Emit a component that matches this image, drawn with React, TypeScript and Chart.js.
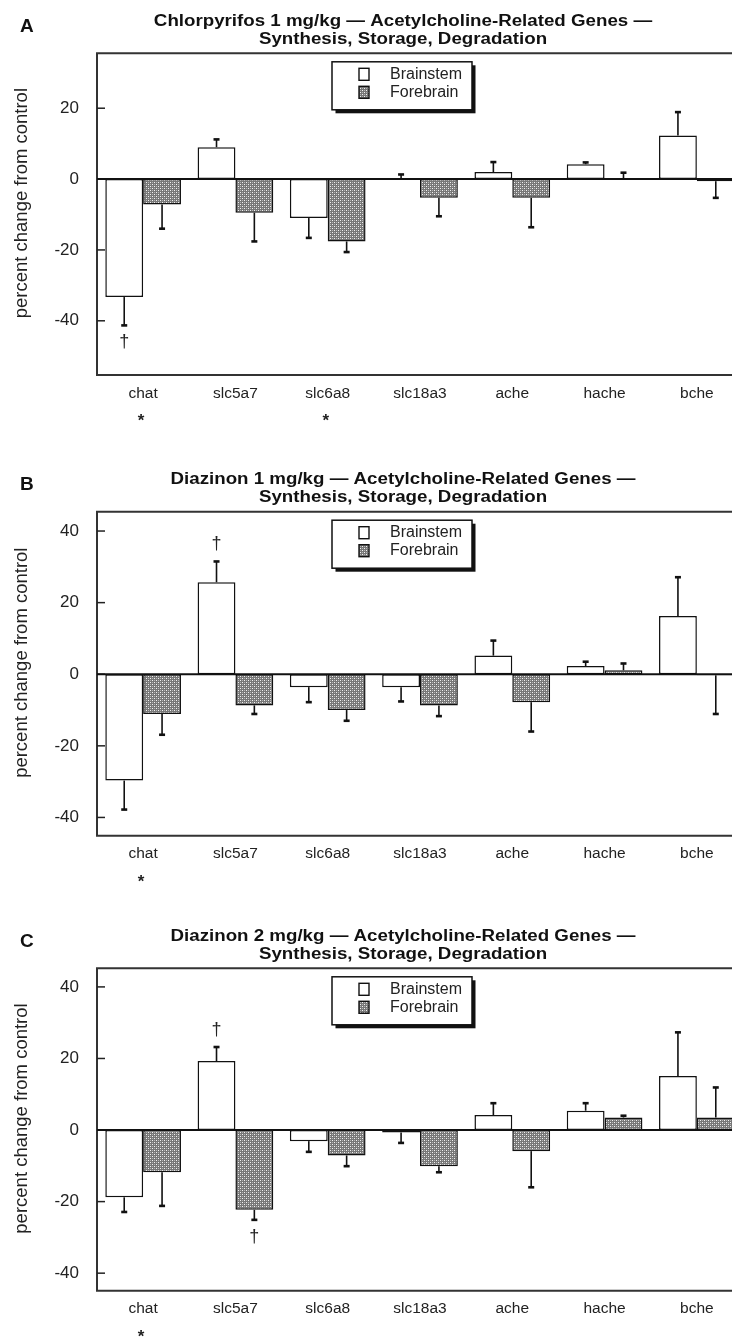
import React, { useEffect, useRef } from "react";
import { Chart, registerables } from "chart.js";

Chart.register(...registerables);
Chart.defaults.font.family = "'Liberation Sans', Arial, Helvetica, sans-serif";

// ---------------- data ----------------
const categories = ["chat", "slc5a7", "slc6a8", "slc18a3", "ache", "hache", "bche"];
const seriesNames = ["Brainstem", "Forebrain"];

// Panel A – Chlorpyrifos 1 mg/kg
const titleA = ["Chlorpyrifos 1 mg/kg \u2014 Acetylcholine-Related Genes \u2014", "Synthesis, Storage, Degradation"];
const brainstemA = [-33.3, 9.0, -11.0, 0.3, 2.0, 4.2, 12.3];
const brainstemErrA = [8.0, 2.2, 5.6, 1.0, 2.8, 0.5, 6.6];
const forebrainA = [-7.2, -9.5, -17.6, -5.3, -5.3, 0.3, -0.6];
const forebrainErrA = [6.8, 8.1, 3.0, 5.2, 8.3, 1.5, 4.7];
const yTicksA = [-40, -20, 0, 20];
const daggersA = [{ series: 0, category: "chat" }];
const asterisksA = ["chat", "slc6a8"];

// Panel B – Diazinon 1 mg/kg
const titleB = ["Diazinon 1 mg/kg \u2014 Acetylcholine-Related Genes \u2014", "Synthesis, Storage, Degradation"];
const brainstemB = [-29.7, 25.7, -3.6, -3.6, 5.2, 2.3, 16.3];
const brainstemErrB = [8.1, 5.8, 4.2, 4.0, 4.2, 1.2, 10.8];
const forebrainB = [-11.1, -8.7, -10.0, -8.7, -7.8, 1.1, -0.3];
const forebrainErrB = [5.8, 2.4, 3.0, 3.0, 8.2, 1.9, 10.8];
const yTicksB = [-40, -20, 0, 20, 40];
const daggersB = [{ series: 0, category: "slc5a7" }];
const asterisksB = ["chat"];

// Panel C – Diazinon 2 mg/kg
const titleC = ["Diazinon 2 mg/kg \u2014 Acetylcholine-Related Genes \u2014", "Synthesis, Storage, Degradation"];
const brainstemC = [-18.8, 19.3, -3.1, -0.7, 4.2, 5.4, 15.1];
const brainstemErrC = [4.1, 3.9, 3.0, 2.9, 3.3, 2.1, 12.2];
const forebrainC = [-11.8, -22.3, -7.1, -10.1, -5.9, 3.5, 3.5];
const forebrainErrC = [9.4, 2.8, 3.0, 1.7, 10.1, 0.5, 8.4];
const yTicksC = [-40, -20, 0, 20, 40];
const daggersC = [{ series: 0, category: "slc5a7" }, { series: 1, category: "slc5a7" }];
const asterisksC = ["chat"];

const yAxisTitle = "percent change from control";

// ---------------- panel setup ----------------
const panels = [
  { letter: "A", title: titleA, b: brainstemA, be: brainstemErrA, f: forebrainA, fe: forebrainErrA, ticks: yTicksA, daggers: daggersA, stars: asterisksA, min: -55.3, max: 35.5, top: 0, height: 440, padTop: 53.3, padBottom: 25 },
  { letter: "B", title: titleB, b: brainstemB, be: brainstemErrB, f: forebrainB, fe: forebrainErrB, ticks: yTicksB, daggers: daggersB, stars: asterisksB, min: -45.1, max: 45.4, top: 440, height: 460, padTop: 71.7, padBottom: 24.3 },
  { letter: "C", title: titleC, b: brainstemC, be: brainstemErrC, f: forebrainC, fe: forebrainErrC, ticks: yTicksC, daggers: daggersC, stars: asterisksC, min: -44.9, max: 45.2, top: 900, height: 439, padTop: 68.3, padBottom: 8.3 },
];

const CANVAS_W = 760;
const TEXT = "#222";
const FONT = "'Liberation Sans', Arial, Helvetica, sans-serif";

function makeHatch(): CanvasPattern | string {
  const c = document.createElement("canvas");
  c.width = 4;
  c.height = 4;
  const g = c.getContext("2d");
  if (!g) return "#888";
  g.fillStyle = "#777777";
  g.fillRect(0, 0, 4, 4);
  g.fillStyle = "#f2f2f2";
  g.fillRect(0, 0, 1, 1);
  g.fillRect(2, 2, 1, 1);
  g.fillStyle = "#b4b4b4";
  g.fillRect(2, 0, 1, 1);
  g.fillRect(0, 2, 1, 1);
  return g.createPattern(c, "repeat") || "#888";
}

function overlayPlugin(p: any, pattern: any) {
  return {
    id: "overlay" + p.letter,
    afterDraw(chart: any) {
      const ctx = chart.ctx as CanvasRenderingContext2D;
      const a = chart.chartArea;
      const x = chart.scales.x;
      const y = chart.scales.y;
      ctx.save();

      // frame (left, top, bottom)
      ctx.strokeStyle = "#333";
      ctx.lineWidth = 2;
      ctx.beginPath();
      ctx.moveTo(a.right + 20, a.top);
      ctx.lineTo(a.left, a.top);
      ctx.lineTo(a.left, a.bottom);
      ctx.lineTo(a.right + 20, a.bottom);
      ctx.stroke();

      // inward tick marks
      ctx.lineWidth = 1.5;
      ctx.strokeStyle = "#222";
      p.ticks.forEach((v: number) => {
        const yy = y.getPixelForValue(v);
        ctx.beginPath();
        ctx.moveTo(a.left, yy);
        ctx.lineTo(a.left + 8, yy);
        ctx.stroke();
      });

      // zero line
      const y0 = y.getPixelForValue(0);
      ctx.strokeStyle = "#111";
      ctx.lineWidth = 2;
      ctx.beginPath();
      ctx.moveTo(a.left, y0);
      ctx.lineTo(a.right + 20, y0);
      ctx.stroke();

      // error bars
      const sets = [
        [p.b, p.be],
        [p.f, p.fe],
      ];
      const ends: number[][] = [[], []];
      sets.forEach(([vals, errs]: any, di: number) => {
        const meta = chart.getDatasetMeta(di);
        vals.forEach((v: number, j: number) => {
          const bx = meta.data[j].x;
          const dir = v >= 0 ? 1 : -1;
          const ys = y.getPixelForValue(v);
          const ye = y.getPixelForValue(v + dir * errs[j]);
          ends[di][j] = ye;
          ctx.strokeStyle = "#111";
          ctx.lineWidth = 1.6;
          ctx.beginPath();
          ctx.moveTo(bx, ys);
          ctx.lineTo(bx, ye);
          ctx.stroke();
          ctx.fillStyle = "#111";
          ctx.fillRect(bx - 3, ye - 1.3, 6, 2.6);
        });
      });

      // daggers
      ctx.fillStyle = TEXT;
      ctx.font = `18px ${FONT}`;
      ctx.textAlign = "center";
      ctx.textBaseline = "middle";
      p.daggers.forEach((d: any) => {
        const j = categories.indexOf(d.category);
        const vals = d.series === 0 ? p.b : p.f;
        const meta = chart.getDatasetMeta(d.series);
        const bx = meta.data[j].x;
        const ye = ends[d.series][j];
        const yy = vals[j] >= 0 ? ye - 17 : ye + 17;
        ctx.fillText("\u2020", bx, yy);
      });

      // asterisks
      ctx.font = `bold 17px ${FONT}`;
      ctx.textBaseline = "alphabetic";
      p.stars.forEach((c: string) => {
        const j = categories.indexOf(c);
        const xx = x.getPixelForValue(j) - 2;
        ctx.fillText("*", xx, a.bottom + 42 + 9);
      });

      // title (wide bold face)
      ctx.font = `bold 16px ${FONT}`;
      ctx.textBaseline = "middle";
      ctx.textAlign = "center";
      ctx.fillStyle = "#111";
      [a.top - 32, a.top - 14].forEach((ty, i) => {
        ctx.save();
        ctx.translate(403, ty);
        ctx.scale(1.17, 1);
        ctx.fillText(p.title[i], 0, 0);
        ctx.restore();
      });

      // panel letter
      ctx.font = `bold 19px ${FONT}`;
      ctx.textAlign = "left";
      ctx.fillText(p.letter, 20, a.top - 27);

      // y axis title
      ctx.save();
      ctx.translate(22, (a.top + a.bottom) / 2 - 11);
      ctx.rotate(-Math.PI / 2);
      ctx.font = `18.5px ${FONT}`;
      ctx.fillStyle = TEXT;
      ctx.textAlign = "center";
      ctx.textBaseline = "middle";
      ctx.fillText(yAxisTitle, 0, 0);
      ctx.restore();

      // legend box
      const lx = 332;
      const ly = a.top + 8.5;
      const lw = 140;
      const lh = 48;
      ctx.fillStyle = "#111";
      ctx.fillRect(lx + 3.5, ly + 3.5, lw, lh);
      ctx.fillStyle = "#fff";
      ctx.fillRect(lx, ly, lw, lh);
      ctx.strokeStyle = "#111";
      ctx.lineWidth = 1.5;
      ctx.strokeRect(lx, ly, lw, lh);
      const rows = [ly + 12.5, ly + 30.5];
      rows.forEach((ry, i) => {
        ctx.fillStyle = i === 0 ? "#fff" : pattern;
        ctx.fillRect(359, ry - 6, 10, 12);
        ctx.strokeStyle = "#111";
        ctx.lineWidth = 1.4;
        ctx.strokeRect(359, ry - 6, 10, 12);
        ctx.fillStyle = TEXT;
        ctx.font = `16px ${FONT}`;
        ctx.textAlign = "left";
        ctx.textBaseline = "middle";
        ctx.fillText(seriesNames[i], 390, ry);
      });

      ctx.restore();
    },
  };
}

function Panel({ p }: { p: any }) {
  const ref = useRef<HTMLCanvasElement>(null);
  useEffect(() => {
    const canvas = ref.current;
    if (!canvas) return;
    const pattern = makeHatch();
    const chart = new Chart(canvas, {
      type: "bar",
      data: {
        labels: categories,
        datasets: [
          { label: seriesNames[0], data: p.b, backgroundColor: "#ffffff", borderColor: "#111", borderWidth: 1.5, borderSkipped: false },
          { label: seriesNames[1], data: p.f, backgroundColor: pattern as any, borderColor: "#111", borderWidth: 1.5, borderSkipped: false },
        ],
      },
      options: {
        responsive: false,
        animation: false,
        devicePixelRatio: 1,
        events: [],
        layout: { padding: { left: 0, right: 17, top: p.padTop, bottom: p.padBottom } },
        datasets: { bar: { categoryPercentage: 0.82, barPercentage: 1.0 } },
        plugins: { legend: { display: false }, title: { display: false }, tooltip: { enabled: false } },
        scales: {
          x: {
            grid: { display: false, drawTicks: false },
            border: { display: false },
            ticks: { font: { size: 15.5 }, color: TEXT, padding: 9, maxRotation: 0, autoSkip: false },
            afterFit: (s: any) => {
              s.height = 40;
            },
          },
          y: {
            min: p.min,
            max: p.max,
            grid: { display: false, drawTicks: false },
            border: { display: false },
            ticks: { font: { size: 17 }, color: TEXT, padding: 18 },
            afterBuildTicks: (s: any) => {
              s.ticks = p.ticks.map((v: number) => ({ value: v }));
            },
            afterFit: (s: any) => {
              s.width = 97;
            },
          },
        },
      } as any,
      plugins: [overlayPlugin(p, pattern)],
    });
    return () => chart.destroy();
  }, [p]);
  return (
    <canvas
      ref={ref}
      width={CANVAS_W}
      height={p.height}
      style={{ position: "absolute", left: 0, top: p.top, width: CANVAS_W, height: p.height }}
    />
  );
}

export default function App() {
  useEffect(() => {
    document.body.style.margin = "0";
    document.body.style.overflow = "hidden";
  }, []);
  return (
    <div style={{ position: "relative", width: 732, height: 1339, overflow: "hidden", background: "#fff" }}>
      {panels.map((p) => (
        <Panel key={p.letter} p={p} />
      ))}
    </div>
  );
}
